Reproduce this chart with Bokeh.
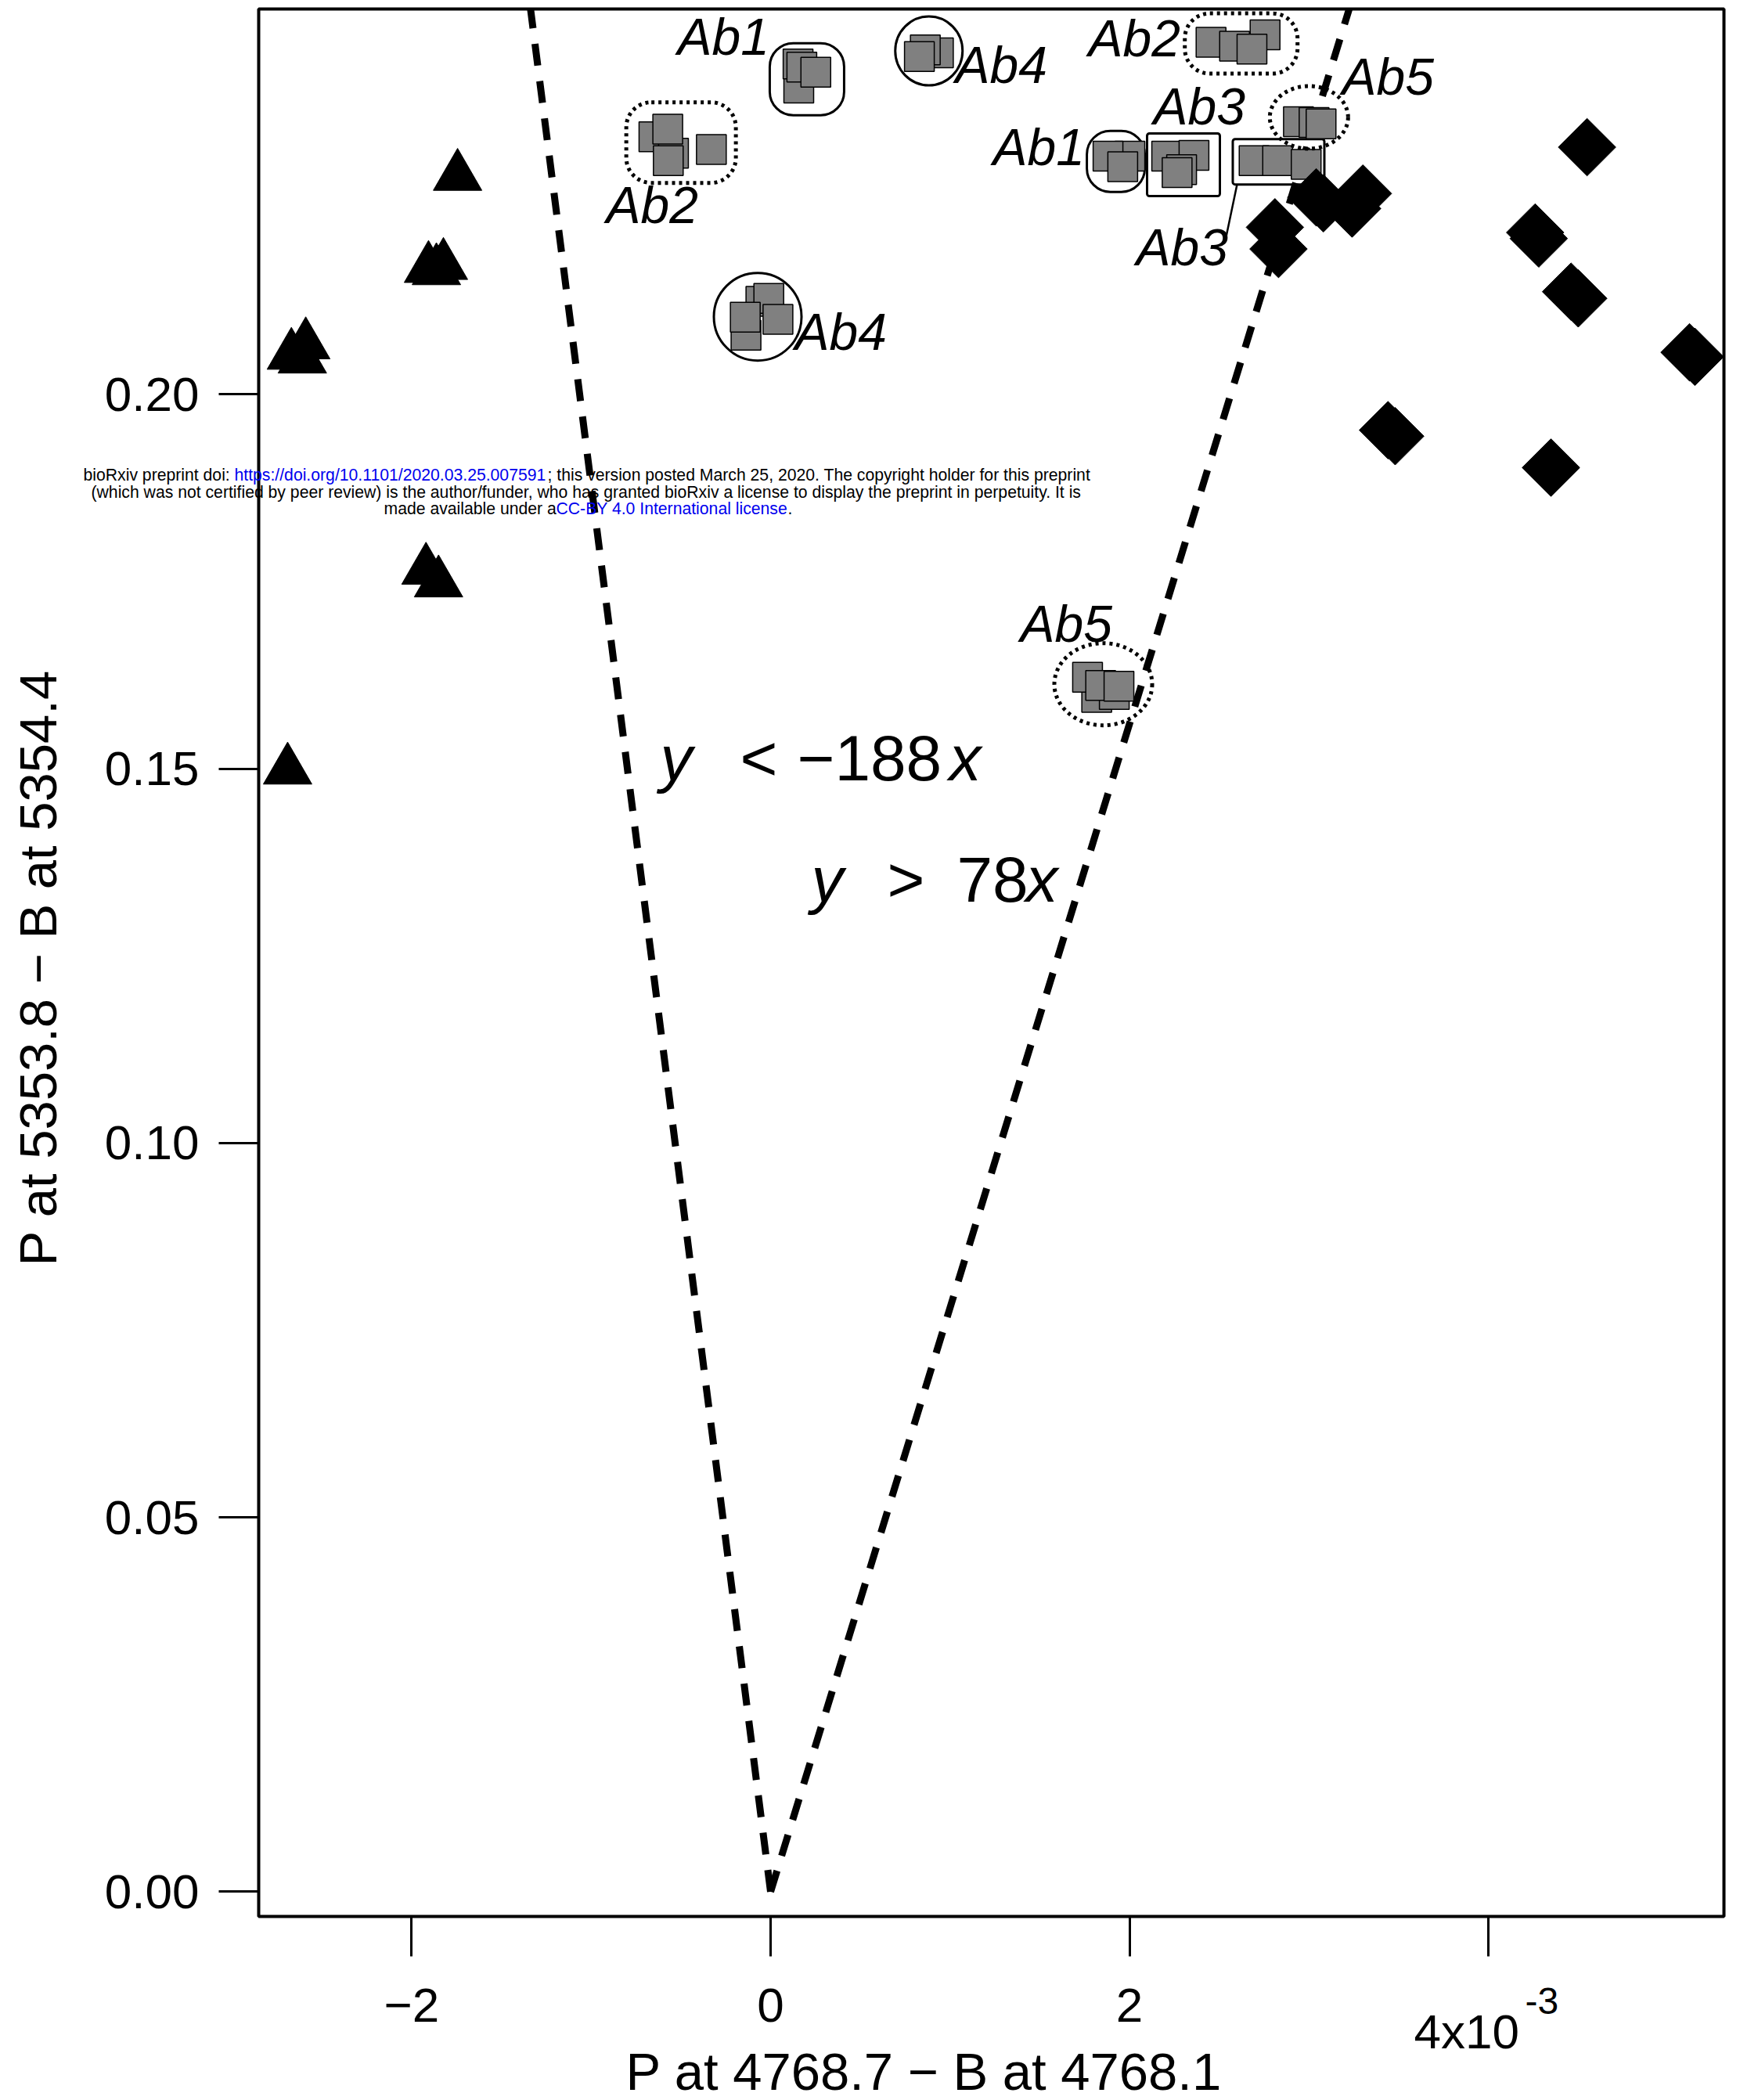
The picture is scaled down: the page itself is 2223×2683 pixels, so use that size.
import numpy as np
from bokeh.plotting import figure
from bokeh.models import Range1d, FixedTicker, Label, BoxAnnotation
from bokeh.embed import file_html
from bokeh.resources import INLINE

# ---------------- data ----------------
x_ticks = [-2, 0, 2, 4]
x_tick_labels = ["\u22122", "0", "2", ""]
x_exp_base = "4x10"
x_exp_power = "-3"
y_ticks = [0.0, 0.05, 0.10, 0.15, 0.20]
y_tick_labels = ["0.00", "0.05", "0.10", "0.15", "0.20"]
x_title = "P at 4768.7 \u2212 B at 4768.1"
y_title = "P at 5353.8 \u2212 B at 5354.4"

boundary_slopes = [-188, 78]          # y = slope * x  (x in absolute units)
boundary_texts = [("y", "<", "\u2212188", "x"), ("y", ">", "78", "x")]

# triangles (x in units of 1e-3)
tri_x = [-1.744, -1.906, -1.823, -1.862, -2.590, -2.670, -2.609, -1.920, -1.850, -2.691]
tri_y = [0.2291, 0.2168, 0.2172, 0.2165, 0.2066, 0.2052, 0.2047, 0.1765, 0.1748, 0.1498]

# diamonds
dia_x = [4.549, 4.26, 4.28, 4.46, 4.50, 5.12, 5.15, 4.348, 2.81, 2.83, 3.04, 3.08, 3.30, 3.24, 3.44, 3.48]
dia_y = [0.2330, 0.2216, 0.2208, 0.2137, 0.2128, 0.2056, 0.2050, 0.1902, 0.2223, 0.2194, 0.2263, 0.2255, 0.2268, 0.2248, 0.1952, 0.1944]

# grey squares by antibody group
ab1a_x = [0.157, 0.153, 0.174, 0.252]
ab1a_y = [0.2409, 0.2441, 0.2437, 0.2430]
ab2a_x = [-0.650, -0.541, -0.570, -0.573, -0.330]
ab2a_y = [0.2344, 0.2322, 0.2312, 0.2354, 0.2327]
ab4a_x = [-0.054, -0.010, -0.137, -0.141, 0.041]
ab4a_y = [0.2124, 0.2128, 0.2079, 0.2103, 0.2100]
ab4b_x = [0.935, 0.862, 0.829]
ab4b_y = [0.2456, 0.2460, 0.2451]
ab2b_x = [2.755, 2.454, 2.585, 2.682]
ab2b_y = [0.2480, 0.2470, 0.2465, 0.2461]
ab1b_x = [2.002, 1.880, 1.962]
ab1b_y = [0.2318, 0.2318, 0.2304]
ab3a_x = [2.207, 2.359, 2.290, 2.265]
ab3a_y = [0.2318, 0.2319, 0.2300, 0.2296]
ab3b_x = [2.694, 2.825, 2.984]
ab3b_y = [0.2312, 0.2312, 0.2307]
ab5a_x = [2.941, 3.028, 3.067]
ab5a_y = [0.2364, 0.2363, 0.2361]
ab5b_x = [1.817, 1.915, 1.766, 1.839, 1.941]
ab5b_y = [0.1595, 0.1599, 0.1622, 0.1611, 0.1610]

watermark_line1 = ["bioRxiv preprint doi: ", "https://doi.org/10.1101/2020.03.25.007591",
                   "; this version posted March 25, 2020. The copyright holder for this preprint"]
watermark_line2 = ["(which was not certified by peer review) is the author/funder, who has granted bioRxiv a license to display the preprint in perpetuity. It is"]
watermark_line3 = ["made available under a", "CC-BY 4.0 International license", "."]

# ---------------- layout constants (page pixels) ----------------
W, H = 2223, 2683
BOX_L, BOX_R, BOX_T, BOX_B = 330, 2202, 11, 2448      # drawn plot box
FRAME_R = 2206                                          # bokeh frame right edge
X0_PX, PX_PER_X = 984.0, 229.3
Y0_PX, PX_PER_Y = 2416.4, 9566.0
BASE_SHIFT = 0.355      # label anchor -> alphabetic baseline distance (in em)


def px(X, Y):
    return (X - X0_PX) / PX_PER_X, (Y0_PX - Y) / PX_PER_Y


x_start, y_end = px(0, 0)
x_end, y_start = px(FRAME_R, H)
box_l, box_t = px(BOX_L, BOX_T)
box_r, box_b = px(BOX_R, BOX_B)

p = figure(width=W, height=H, x_range=Range1d(x_start, x_end), y_range=Range1d(y_start, y_end),
           output_backend="svg", toolbar_location=None,
           min_border_left=0, min_border_right=W - FRAME_R, min_border_top=0, min_border_bottom=0)
p.grid.visible = False
p.outline_line_color = None
p.background_fill_color = "white"
p.border_fill_color = "white"

FONT = "Liberation Sans"

xa = p.xaxis[0]
xa.ticker = FixedTicker(ticks=x_ticks)
xa.major_label_overrides = {t: l for t, l in zip(x_ticks, x_tick_labels)}
xa.fixed_location = box_b
ya = p.yaxis[0]
ya.ticker = FixedTicker(ticks=y_ticks)
ya.major_label_overrides = {t: l for t, l in zip(y_ticks, y_tick_labels)}
ya.fixed_location = box_l
for ax in (xa, ya):
    ax.major_tick_out = 51
    ax.major_tick_in = 0
    ax.major_tick_line_width = 3
    ax.minor_tick_line_color = None
    ax.axis_line_color = None
    ax.major_label_text_font = FONT
    ax.major_label_text_font_size = "62px"
    ax.major_label_text_color = "black"
xa.major_label_standoff = 41
ya.major_label_standoff = 25

# plot box
p.add_layout(BoxAnnotation(left=box_l, right=box_r, bottom=box_b, top=box_t,
                           fill_color=None, fill_alpha=0, line_color="black",
                           line_width=4, line_alpha=1))


def add_text(text, X, Y, size, style="normal", color="black", align="left", angle=0.0):
    off = BASE_SHIFT * size
    x, y = px(X - off * np.sin(angle), Y - off * np.cos(angle))
    p.add_layout(Label(x=x, y=y, text=text, text_font=FONT, text_font_size=f"{size}px",
                       text_font_style=style, text_color=color, text_align=align,
                       text_baseline="alphabetic", angle=angle))


# axis titles and exponent
add_text(x_title, 1180, 2670, 67, align="center")
add_text(y_title, 72, 1236, 67, align="center", angle=np.pi / 2)
add_text(x_exp_base, 1806, 2617, 62)
add_text(x_exp_power, 1948, 2573, 48)

# ---------------- boundary lines ----------------
for s in boundary_slopes:
    p.line(x=[0, box_t / (s * 1e-3)], y=[0, box_t], line_color="black", line_width=9,
           line_dash="28 20", line_cap="butt")

# ---------------- grey squares ----------------
groups = {
    "ab1a": (ab1a_x, ab1a_y), "ab2a": (ab2a_x, ab2a_y), "ab4a": (ab4a_x, ab4a_y),
    "ab4b": (ab4b_x, ab4b_y), "ab2b": (ab2b_x, ab2b_y), "ab1b": (ab1b_x, ab1b_y),
    "ab3a": (ab3a_x, ab3a_y), "ab3b": (ab3b_x, ab3b_y), "ab5a": (ab5a_x, ab5a_y),
    "ab5b": (ab5b_x, ab5b_y),
}
for gx, gy in groups.values():
    p.scatter(x=gx, y=gy, marker="square", size=38, fill_color="#808080",
              line_color="black", line_width=1.5)

# group outlines: (group, shape, width px, height px, radius px, dash, dx px, dy px)
outlines = [
    ("ab1a", "box", 95, 92, 30, "solid", 0, 4),
    ("ab2a", "box", 140, 103, 32, "4 5", -2, -3),
    ("ab4a", "ellipse", 112, 112, 0, "solid", -5, 0),
    ("ab4b", "ellipse", 86, 88, 0, "solid", 0, -3),
    ("ab2b", "box", 144, 77, 32, "4 5", 4, 2),
    ("ab1b", "box", 74, 78, 30, "solid", -4, 0),
    ("ab3a", "box", 93, 80, 3, "solid", 4, 1),
    ("ab3b", "box", 117, 58, 3, "solid", -2, -1),
    ("ab5a", "ellipse", 100, 80, 0, "4 5", -1, -7),
    ("ab5b", "ellipse", 125, 105, 0, "4 5", 0, -4),
]
for key, shape, wpx, hpx, rad, dash, dx, dy in outlines:
    gx, gy = groups[key]
    cx = (min(gx) + max(gx)) / 2 + dx / PX_PER_X
    cy = (min(gy) + max(gy)) / 2 - dy / PX_PER_Y
    hw, hh = wpx / 2 / PX_PER_X, hpx / 2 / PX_PER_Y
    lw = 3 if dash == "solid" else 5
    if shape == "box":
        p.add_layout(BoxAnnotation(left=cx - hw, right=cx + hw, bottom=cy - hh, top=cy + hh,
                                   fill_color=None, fill_alpha=0, line_color="black",
                                   line_width=lw, line_alpha=1,
                                   line_dash=dash, border_radius=rad, level="underlay"))
    else:
        p.ellipse(x=[cx], y=[cy], width=[2 * hw], height=[2 * hh], fill_color=None,
                  line_color="black", line_width=lw, line_dash=dash)

# leader line for the lower Ab3 label
lx0, ly0 = px(1580, 235)
lx1, ly1 = px(1566, 302)
p.line(x=[lx0, lx1], y=[ly0, ly1], line_color="black", line_width=2.5)

# ---------------- black markers ----------------
p.scatter(x=dia_x, y=dia_y, marker="square", angle=np.pi / 4, size=52,
          fill_color="black", line_color="black")
p.scatter(x=tri_x, y=tri_y, marker="triangle", size=62, fill_color="black", line_color="black")

# ---------------- antibody labels ----------------
ab_labels = [("Ab1", 865, 70), ("Ab2", 774, 285), ("Ab4", 1015, 447), ("Ab4", 1220, 106),
             ("Ab2", 1390, 72), ("Ab5", 1714, 121), ("Ab3", 1473, 159), ("Ab1", 1268, 211),
             ("Ab3", 1451, 339), ("Ab5", 1303, 820)]
for t, X, Y in ab_labels:
    add_text(t, X, Y, 66, style="italic")

# ---------------- boundary formulas ----------------
formula_pos = [((843, 945, 1018, 1212), 997), ((1036, 1133, 1222, 1310), 1152)]
for parts, (xs, Y) in zip(boundary_texts, formula_pos):
    for part, X, st in zip(parts, xs, ("italic", "normal", "normal", "italic")):
        add_text(part, X, Y, 82, style=st)

# ---------------- watermark ----------------
WM = 21.2
for seg, X, col in zip(watermark_line1, (106, 299, 699), ("black", "#0000ee", "black")):
    add_text(seg, X, 614, WM, color=col)
add_text(watermark_line2[0], 116, 636, WM)
for seg, X, col in zip(watermark_line3, (490, 710, 1006), ("black", "#0000ee", "black")):
    add_text(seg, X, 657, WM, color=col)

open("out.html", "w").write(file_html(p, INLINE))
